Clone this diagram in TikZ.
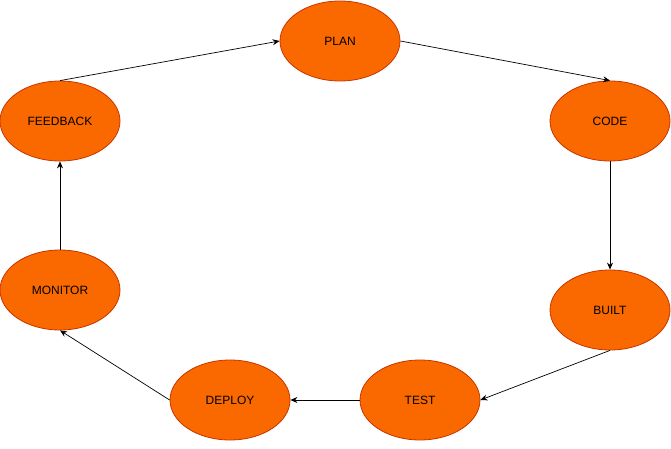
\documentclass[tikz,border=0pt]{standalone}
\usepackage{fontspec}
\setmainfont{Liberation Sans}
\usetikzlibrary{shapes.geometric,arrows.meta}
\definecolor{PumpkinOrange}{RGB}{250, 104, 0}
\definecolor{BurntOrange}{RGB}{199, 53, 0}

\begin{document}
\begin{tikzpicture}[x=1pt, y=-1pt,
    stage/.style={ellipse, draw=BurntOrange, fill=PumpkinOrange, line width=0.8pt,
        minimum width=120pt, minimum height=80pt, inner sep=0pt,
        font=\fontsize{12}{14}\selectfont},
    flow/.style={-{Stealth[length=7pt,width=6pt]}, line width=0.7pt}]
    \useasboundingbox (0,0) rectangle (671,449);

    \node[stage] (plan) at (340,41) {PLAN};
    \node[stage] (code) at (610,121) {CODE};
    \node[stage] (built) at (610,310) {BUILT};
    \node[stage] (test) at (420,400) {TEST};
    \node[stage] (deploy) at (230,400) {DEPLOY};
    \node[stage] (monitor) at (60,290) {MONITOR};
    \node[stage] (feedback) at (60,121) {FEEDBACK};

    \draw[flow] (feedback.north) -- (plan.west);
    \draw[flow] (plan.east) -- (code.north);
    \draw[flow] (code.south) -- (built.north);
    \draw[flow] (built.south) -- (test.east);
    \draw[flow] (test.west) -- (deploy.east);
    \draw[flow] (deploy.west) -- (monitor.south);
    \draw[flow] (monitor.north) -- (feedback.south);
\end{tikzpicture}
\end{document}
